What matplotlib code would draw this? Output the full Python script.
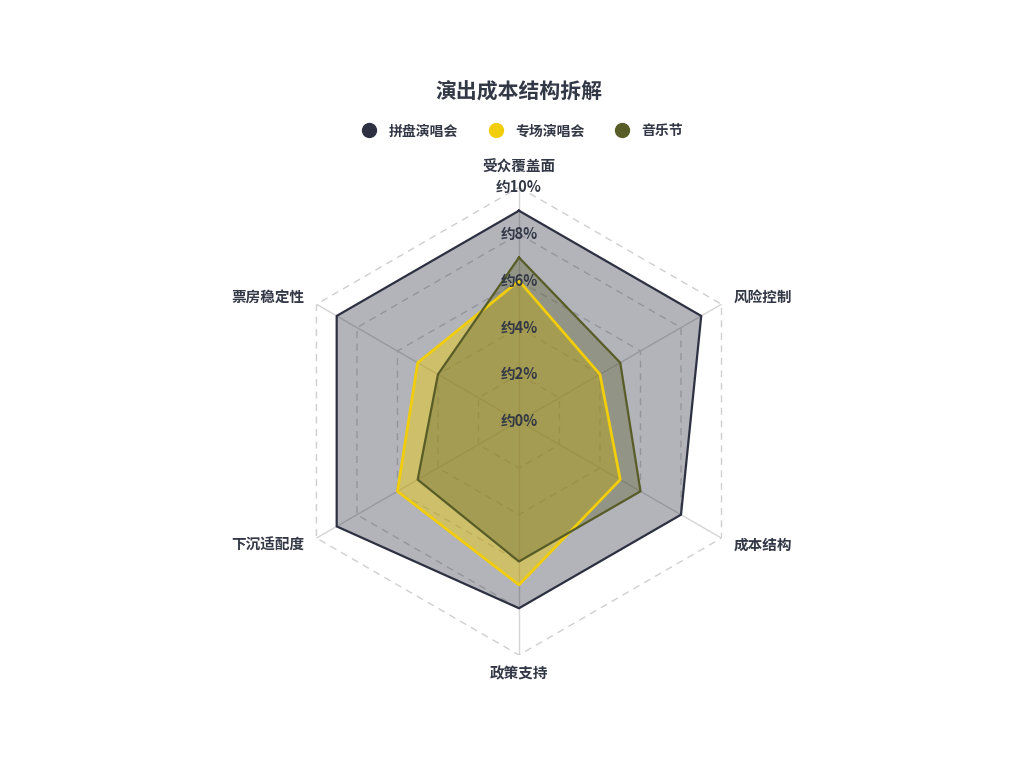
import numpy as np
import matplotlib
matplotlib.use('Agg')
from matplotlib import pyplot as plt
from matplotlib.lines import Line2D

plt.rcParams['font.family'] = ['Noto Sans CJK SC', 'DejaVu Sans']

categories = ['受众覆盖面', '风险控制', '成本结构', '政策支持', '下沉适配度', '票房稳定性']
series_names = ['拼盘演唱会', '专场演唱会', '音乐节']
pinpan = [9, 9, 8, 8, 9, 9]
zhuanchang = [6, 4, 5, 7, 6, 5]
yinyuejie = [7, 5, 6, 6, 5, 4]
ring_values = [0, 2, 4, 6, 8, 10]
ring_labels = ['约0%', '约2%', '约4%', '约6%', '约8%', '约10%']

colors = ['#2c3041', '#f2cd0a', '#585c27']
alphas = [0.36, 0.45, 0.35]
widths = [1.6, 2.0, 1.6]
text_color = '#333846'

fig = plt.figure(figsize=(10.24, 7.68), dpi=100)
ax = fig.add_axes([0.2783, 0.1471, 0.457, 0.609], projection='polar')
ax.set_theta_offset(np.pi / 2)
ax.set_theta_direction(-1)
ax.set_ylim(0, 10)
ax.grid(False)
ax.set_xticks([])
ax.set_yticks([])
ax.spines['polar'].set_visible(False)

n = len(categories)
angles = np.linspace(0, 2 * np.pi, n, endpoint=False)
closed = np.append(angles, angles[0])

# spokes and dashed hexagon rings
for a in angles:
    ax.plot([a, a], [0, 10], color='#d4d4d4', lw=1, zorder=1)
for r in ring_values[1:]:
    ax.plot(closed, [r] * (n + 1), color='#cfcfcf', lw=1, ls=(0, (5, 4)), zorder=1)

for vals, c, al, lw, name in zip([pinpan, zhuanchang, yinyuejie], colors, alphas, widths, series_names):
    v = np.append(vals, vals[0])
    ax.fill(closed, v, color=c, alpha=al, zorder=2, lw=0)
    ax.plot(closed, v, color=c, lw=lw, zorder=3, label=name)

# radial labels
for r, lab in zip(ring_values, ring_labels):
    ax.text(0, r, lab, ha='center', va='center', fontsize=10.5, color=text_color,
            fontweight='bold', zorder=5)

# category labels
label_pos = [
    (10.55, 'center', 'bottom'),
    (10.6, 'left', 'center'),
    (10.6, 'left', 'center'),
    (10.45, 'center', 'top'),
    (10.6, 'right', 'center'),
    (10.6, 'right', 'center'),
]
for a, lab, (r, ha, va) in zip(angles, categories, label_pos):
    ax.text(a, r, lab, ha=ha, va=va, fontsize=10.5, color=text_color,
            fontweight='bold', clip_on=False)

fig.text(0.507, 0.880, '演出成本结构拆解', ha='center', va='center', fontsize=15,
         fontweight='bold', color=text_color)

handles = [Line2D([], [], marker='o', ls='none', markersize=10, color=c) for c in colors]
leg = fig.legend(handles, series_names, loc='center', bbox_to_anchor=(0.507, 0.829), ncol=3,
                 frameon=False, handletextpad=0.4, columnspacing=1.7,
                 prop={'weight': 'bold', 'size': 10})
for t in leg.get_texts():
    t.set_color(text_color)

plt.savefig('out.png', dpi=100, facecolor='white')
